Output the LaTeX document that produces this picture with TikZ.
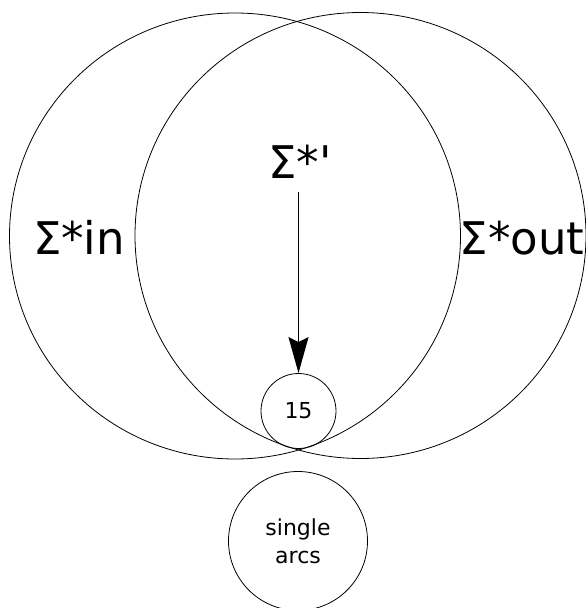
\documentclass[tikz,border=0pt]{standalone}
\usepackage{fontspec}
\setmainfont{DejaVu Sans}[Ligatures=TeXOff]
\usetikzlibrary{arrows.meta,shapes.geometric}
\begin{document}
\begin{tikzpicture}[x=1pt,y=-1pt,
  setline/.style={draw=black,line width=0.8pt},
  bigset/.style={setline,ellipse,inner sep=0pt,minimum width=451pt,minimum height=446pt},
  smallset/.style={setline,circle,inner sep=0pt},
  biglabel/.style={font=\fontsize{45}{54}\selectfont,inner sep=0pt},
  smalllabel/.style={font=\fontsize{22}{28}\selectfont,align=center,inner sep=0pt},
  arr/.style={line width=1.8pt,-{Stealth[length=36pt,width=20pt,inset=5pt]}}]
\useasboundingbox (0,0) rectangle (586,608);
\fill[white] (0,0) rectangle (586,608);
\node[bigset] (sin) at (235,236) {};
\node[bigset] (sout) at (360.5,235.5) {};
\node[smallset,minimum size=75pt] (n15) at (298.5,411) {};
\node[smallset,minimum size=139pt] (single) at (298,541) {};
\node[biglabel,anchor=base] (tin) at (79,254) {Σ*in};
\node[biglabel,anchor=base] (tout) at (522,254) {Σ*out};
\node[biglabel,anchor=base,inner sep=0pt] (tp) at (300,178) {Σ*'};
\node[smalllabel] (l15) at (298.5,411) {15};
\node[smalllabel] (lsingle) at (298,541) {single\\arcs};
\draw[arr] ([yshift=-14pt]tp.south -| n15.north) -- (n15.north);
\end{tikzpicture}
\end{document}
